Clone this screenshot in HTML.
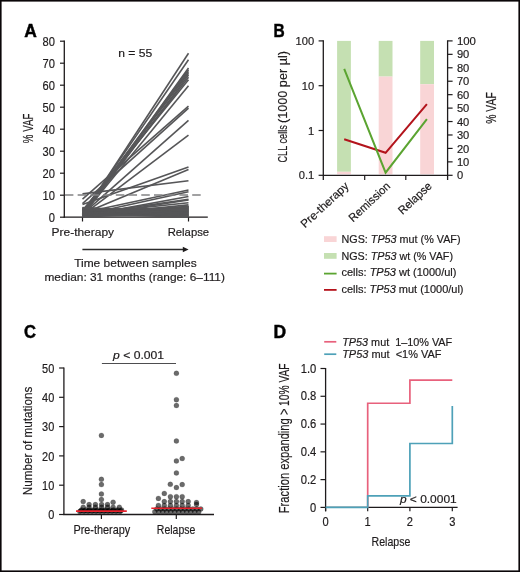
<!DOCTYPE html>
<html><head><meta charset="utf-8"><style>
html,body{margin:0;padding:0;background:#fff;}
body{width:520px;height:572px;overflow:hidden;}
svg{display:block;font-family:"Liberation Sans", sans-serif;will-change:transform;}
</style></head><body>
<svg width="520" height="572" viewBox="0 0 520 572">
<rect x="0" y="0" width="520" height="572" fill="#fff"/>
<text x="24.2" y="36.8" font-size="17.6" text-anchor="start" font-weight="bold" fill="#000" stroke="#000" stroke-width="0.45" textLength="12.6" lengthAdjust="spacingAndGlyphs">A</text>
<line x1="64.30" y1="40.60" x2="64.30" y2="217.80" stroke="#1e1b1c" stroke-width="1.3" />
<line x1="63.70" y1="217.20" x2="207.80" y2="217.20" stroke="#1e1b1c" stroke-width="1.3" />
<line x1="60.00" y1="217.20" x2="64.30" y2="217.20" stroke="#1e1b1c" stroke-width="1.2" />
<text x="55" y="221.6" font-size="12.4" text-anchor="end" font-weight="normal" fill="#1e1b1c" stroke="#1e1b1c" stroke-width="0.18"  textLength="6.2" lengthAdjust="spacingAndGlyphs">0</text>
<line x1="60.00" y1="195.20" x2="64.30" y2="195.20" stroke="#1e1b1c" stroke-width="1.2" />
<text x="55" y="199.6" font-size="12.4" text-anchor="end" font-weight="normal" fill="#1e1b1c" stroke="#1e1b1c" stroke-width="0.18"  textLength="12.4" lengthAdjust="spacingAndGlyphs">10</text>
<line x1="60.00" y1="173.20" x2="64.30" y2="173.20" stroke="#1e1b1c" stroke-width="1.2" />
<text x="55" y="177.6" font-size="12.4" text-anchor="end" font-weight="normal" fill="#1e1b1c" stroke="#1e1b1c" stroke-width="0.18"  textLength="12.4" lengthAdjust="spacingAndGlyphs">20</text>
<line x1="60.00" y1="151.20" x2="64.30" y2="151.20" stroke="#1e1b1c" stroke-width="1.2" />
<text x="55" y="155.6" font-size="12.4" text-anchor="end" font-weight="normal" fill="#1e1b1c" stroke="#1e1b1c" stroke-width="0.18"  textLength="12.4" lengthAdjust="spacingAndGlyphs">30</text>
<line x1="60.00" y1="129.20" x2="64.30" y2="129.20" stroke="#1e1b1c" stroke-width="1.2" />
<text x="55" y="133.6" font-size="12.4" text-anchor="end" font-weight="normal" fill="#1e1b1c" stroke="#1e1b1c" stroke-width="0.18"  textLength="12.4" lengthAdjust="spacingAndGlyphs">40</text>
<line x1="60.00" y1="107.20" x2="64.30" y2="107.20" stroke="#1e1b1c" stroke-width="1.2" />
<text x="55" y="111.59999999999998" font-size="12.4" text-anchor="end" font-weight="normal" fill="#1e1b1c" stroke="#1e1b1c" stroke-width="0.18"  textLength="12.4" lengthAdjust="spacingAndGlyphs">50</text>
<line x1="60.00" y1="85.20" x2="64.30" y2="85.20" stroke="#1e1b1c" stroke-width="1.2" />
<text x="55" y="89.6" font-size="12.4" text-anchor="end" font-weight="normal" fill="#1e1b1c" stroke="#1e1b1c" stroke-width="0.18"  textLength="12.4" lengthAdjust="spacingAndGlyphs">60</text>
<line x1="60.00" y1="63.20" x2="64.30" y2="63.20" stroke="#1e1b1c" stroke-width="1.2" />
<text x="55" y="67.6" font-size="12.4" text-anchor="end" font-weight="normal" fill="#1e1b1c" stroke="#1e1b1c" stroke-width="0.18"  textLength="12.4" lengthAdjust="spacingAndGlyphs">70</text>
<line x1="60.00" y1="41.20" x2="64.30" y2="41.20" stroke="#1e1b1c" stroke-width="1.2" />
<text x="55" y="45.59999999999999" font-size="12.4" text-anchor="end" font-weight="normal" fill="#1e1b1c" stroke="#1e1b1c" stroke-width="0.18"  textLength="12.4" lengthAdjust="spacingAndGlyphs">80</text>
<line x1="82.50" y1="217.20" x2="82.50" y2="221.50" stroke="#1e1b1c" stroke-width="1.2" />
<line x1="188.50" y1="217.20" x2="188.50" y2="221.50" stroke="#1e1b1c" stroke-width="1.2" />
<text x="0" y="0" font-size="14.6" text-anchor="middle" font-weight="normal" fill="#1e1b1c" stroke="#1e1b1c" stroke-width="0.18" transform="translate(33.4,128.4) rotate(-90)" textLength="29.5" lengthAdjust="spacingAndGlyphs">% VAF</text>
<text x="135.2" y="56.7" font-size="11.6" text-anchor="middle" font-weight="normal" fill="#1e1b1c" stroke="#1e1b1c" stroke-width="0.18"  textLength="34" lengthAdjust="spacingAndGlyphs">n = 55</text>
<line x1="82.50" y1="215.00" x2="188.50" y2="53.30" stroke="#565658" stroke-width="1.6" />
<line x1="82.50" y1="213.90" x2="188.50" y2="59.68" stroke="#565658" stroke-width="1.6" />
<line x1="82.50" y1="215.44" x2="188.50" y2="68.04" stroke="#565658" stroke-width="1.6" />
<line x1="82.50" y1="212.80" x2="188.50" y2="69.80" stroke="#565658" stroke-width="1.6" />
<line x1="82.50" y1="214.56" x2="188.50" y2="71.56" stroke="#565658" stroke-width="1.6" />
<line x1="82.50" y1="211.48" x2="188.50" y2="73.32" stroke="#565658" stroke-width="1.6" />
<line x1="82.50" y1="216.10" x2="188.50" y2="75.08" stroke="#565658" stroke-width="1.6" />
<line x1="82.50" y1="213.24" x2="188.50" y2="77.28" stroke="#565658" stroke-width="1.6" />
<line x1="82.50" y1="210.60" x2="188.50" y2="79.70" stroke="#565658" stroke-width="1.6" />
<line x1="82.50" y1="215.00" x2="188.50" y2="85.64" stroke="#565658" stroke-width="1.6" />
<line x1="82.50" y1="199.16" x2="188.50" y2="106.10" stroke="#565658" stroke-width="1.6" />
<line x1="82.50" y1="203.56" x2="188.50" y2="108.08" stroke="#565658" stroke-width="1.6" />
<line x1="82.50" y1="214.12" x2="188.50" y2="120.40" stroke="#565658" stroke-width="1.6" />
<line x1="82.50" y1="215.22" x2="188.50" y2="135.14" stroke="#565658" stroke-width="1.6" />
<line x1="82.50" y1="204.44" x2="188.50" y2="167.04" stroke="#565658" stroke-width="1.6" />
<line x1="82.50" y1="213.68" x2="188.50" y2="169.46" stroke="#565658" stroke-width="1.6" />
<line x1="82.50" y1="193.88" x2="188.50" y2="180.68" stroke="#565658" stroke-width="1.6" />
<line x1="82.50" y1="212.80" x2="188.50" y2="189.92" stroke="#565658" stroke-width="1.6" />
<line x1="82.50" y1="215.00" x2="188.50" y2="191.68" stroke="#565658" stroke-width="1.6" />
<line x1="82.50" y1="215.88" x2="188.50" y2="196.52" stroke="#565658" stroke-width="1.6" />
<line x1="82.50" y1="214.56" x2="188.50" y2="199.38" stroke="#565658" stroke-width="1.6" />
<line x1="82.50" y1="216.32" x2="188.50" y2="200.04" stroke="#565658" stroke-width="1.6" />
<line x1="82.50" y1="213.90" x2="188.50" y2="202.68" stroke="#565658" stroke-width="1.6" />
<line x1="82.50" y1="215.44" x2="188.50" y2="204.88" stroke="#565658" stroke-width="1.6" />
<line x1="82.50" y1="216.98" x2="188.50" y2="206.92" stroke="#565658" stroke-width="1.6" />
<line x1="82.50" y1="216.66" x2="188.50" y2="213.75" stroke="#565658" stroke-width="1.6" />
<line x1="82.50" y1="216.35" x2="188.50" y2="210.15" stroke="#565658" stroke-width="1.6" />
<line x1="82.50" y1="216.03" x2="188.50" y2="206.20" stroke="#565658" stroke-width="1.6" />
<line x1="82.50" y1="215.72" x2="188.50" y2="206.56" stroke="#565658" stroke-width="1.6" />
<line x1="82.50" y1="215.40" x2="188.50" y2="215.18" stroke="#565658" stroke-width="1.6" />
<line x1="82.50" y1="215.09" x2="188.50" y2="214.46" stroke="#565658" stroke-width="1.6" />
<line x1="82.50" y1="214.77" x2="188.50" y2="209.07" stroke="#565658" stroke-width="1.6" />
<line x1="82.50" y1="214.46" x2="188.50" y2="216.98" stroke="#565658" stroke-width="1.6" />
<line x1="82.50" y1="214.14" x2="188.50" y2="211.95" stroke="#565658" stroke-width="1.6" />
<line x1="82.50" y1="213.83" x2="188.50" y2="214.11" stroke="#565658" stroke-width="1.6" />
<line x1="82.50" y1="213.51" x2="188.50" y2="211.59" stroke="#565658" stroke-width="1.6" />
<line x1="82.50" y1="213.20" x2="188.50" y2="208.72" stroke="#565658" stroke-width="1.6" />
<line x1="82.50" y1="212.88" x2="188.50" y2="208.36" stroke="#565658" stroke-width="1.6" />
<line x1="82.50" y1="212.57" x2="188.50" y2="209.43" stroke="#565658" stroke-width="1.6" />
<line x1="82.50" y1="212.25" x2="188.50" y2="212.31" stroke="#565658" stroke-width="1.6" />
<line x1="82.50" y1="211.93" x2="188.50" y2="208.00" stroke="#565658" stroke-width="1.6" />
<line x1="82.50" y1="211.62" x2="188.50" y2="207.28" stroke="#565658" stroke-width="1.6" />
<line x1="82.50" y1="211.30" x2="188.50" y2="214.82" stroke="#565658" stroke-width="1.6" />
<line x1="82.50" y1="210.99" x2="188.50" y2="211.23" stroke="#565658" stroke-width="1.6" />
<line x1="82.50" y1="210.67" x2="188.50" y2="207.64" stroke="#565658" stroke-width="1.6" />
<line x1="82.50" y1="210.36" x2="188.50" y2="210.51" stroke="#565658" stroke-width="1.6" />
<line x1="82.50" y1="210.04" x2="188.50" y2="213.03" stroke="#565658" stroke-width="1.6" />
<line x1="82.50" y1="209.73" x2="188.50" y2="215.90" stroke="#565658" stroke-width="1.6" />
<line x1="82.50" y1="209.41" x2="188.50" y2="210.87" stroke="#565658" stroke-width="1.6" />
<line x1="82.50" y1="209.10" x2="188.50" y2="216.26" stroke="#565658" stroke-width="1.6" />
<line x1="82.50" y1="208.78" x2="188.50" y2="216.62" stroke="#565658" stroke-width="1.6" />
<line x1="82.50" y1="208.47" x2="188.50" y2="209.79" stroke="#565658" stroke-width="1.6" />
<line x1="82.50" y1="208.15" x2="188.50" y2="212.67" stroke="#565658" stroke-width="1.6" />
<line x1="82.50" y1="207.84" x2="188.50" y2="215.54" stroke="#565658" stroke-width="1.6" />
<line x1="82.50" y1="207.52" x2="188.50" y2="213.39" stroke="#565658" stroke-width="1.6" />
<line x1="64.90" y1="194.90" x2="201.60" y2="194.90" stroke="#828284" stroke-width="1.5" stroke-dasharray="8.5 4.23"/>
<text x="82.8" y="235.6" font-size="11.6" text-anchor="middle" font-weight="normal" fill="#1e1b1c" stroke="#1e1b1c" stroke-width="0.18"  textLength="62.5" lengthAdjust="spacingAndGlyphs">Pre-therapy</text>
<text x="188.4" y="235.6" font-size="11.6" text-anchor="middle" font-weight="normal" fill="#1e1b1c" stroke="#1e1b1c" stroke-width="0.18"  textLength="41.5" lengthAdjust="spacingAndGlyphs">Relapse</text>
<line x1="82.40" y1="249.50" x2="185.00" y2="249.50" stroke="#2b2b2b" stroke-width="1.3" />
<path d="M182.8 246.8 L188.6 249.5 L182.8 252.2 Z" fill="#1e1b1c"/>
<text x="135.4" y="266.9" font-size="11.6" text-anchor="middle" font-weight="normal" fill="#1e1b1c" stroke="#1e1b1c" stroke-width="0.18"  textLength="122.5" lengthAdjust="spacingAndGlyphs">Time between samples</text>
<text x="134.7" y="281.2" font-size="11.6" text-anchor="middle" font-weight="normal" fill="#1e1b1c" stroke="#1e1b1c" stroke-width="0.18"  textLength="180.5" lengthAdjust="spacingAndGlyphs">median: 31 months (range: 6–111)</text>
<text x="273.6" y="36.8" font-size="17.6" text-anchor="start" font-weight="bold" fill="#000" stroke="#000" stroke-width="0.45" textLength="11.2" lengthAdjust="spacingAndGlyphs">B</text>
<rect x="337.1" y="40.9" width="13.8" height="130.90" fill="#c5e0b2"/>
<rect x="337.1" y="171.80" width="13.8" height="2.50" fill="#f9d5d6"/>
<rect x="378.7" y="40.9" width="13.8" height="35.70" fill="#c5e0b2"/>
<rect x="378.7" y="76.60" width="13.8" height="97.70" fill="#f9d5d6"/>
<rect x="420.2" y="40.9" width="13.8" height="43.30" fill="#c5e0b2"/>
<rect x="420.2" y="84.20" width="13.8" height="90.10" fill="#f9d5d6"/>
<line x1="323.30" y1="40.30" x2="323.30" y2="180.00" stroke="#1e1b1c" stroke-width="1.3" />
<line x1="447.60" y1="40.30" x2="447.60" y2="180.00" stroke="#1e1b1c" stroke-width="1.3" />
<line x1="323.30" y1="175.30" x2="447.60" y2="175.30" stroke="#1e1b1c" stroke-width="1.3" />
<line x1="318.60" y1="40.90" x2="323.30" y2="40.90" stroke="#1e1b1c" stroke-width="1.2" />
<text x="314.2" y="45.0" font-size="11.6" text-anchor="end" font-weight="normal" fill="#1e1b1c" stroke="#1e1b1c" stroke-width="0.18"  textLength="18.6" lengthAdjust="spacingAndGlyphs">100</text>
<line x1="318.60" y1="85.70" x2="323.30" y2="85.70" stroke="#1e1b1c" stroke-width="1.2" />
<text x="314.2" y="89.8" font-size="11.6" text-anchor="end" font-weight="normal" fill="#1e1b1c" stroke="#1e1b1c" stroke-width="0.18"  textLength="12.4" lengthAdjust="spacingAndGlyphs">10</text>
<line x1="318.60" y1="130.50" x2="323.30" y2="130.50" stroke="#1e1b1c" stroke-width="1.2" />
<text x="314.2" y="134.6" font-size="11.6" text-anchor="end" font-weight="normal" fill="#1e1b1c" stroke="#1e1b1c" stroke-width="0.18"  textLength="6.2" lengthAdjust="spacingAndGlyphs">1</text>
<line x1="318.60" y1="175.30" x2="323.30" y2="175.30" stroke="#1e1b1c" stroke-width="1.2" />
<text x="314.2" y="179.4" font-size="11.6" text-anchor="end" font-weight="normal" fill="#1e1b1c" stroke="#1e1b1c" stroke-width="0.18"  textLength="15.5" lengthAdjust="spacingAndGlyphs">0.1</text>
<line x1="447.60" y1="175.30" x2="452.60" y2="175.30" stroke="#1e1b1c" stroke-width="1.2" />
<text x="456.9" y="179.4" font-size="11.6" text-anchor="start" font-weight="normal" fill="#1e1b1c" stroke="#1e1b1c" stroke-width="0.18"  textLength="6.2" lengthAdjust="spacingAndGlyphs">0</text>
<line x1="447.60" y1="161.86" x2="452.60" y2="161.86" stroke="#1e1b1c" stroke-width="1.2" />
<text x="456.9" y="165.96" font-size="11.6" text-anchor="start" font-weight="normal" fill="#1e1b1c" stroke="#1e1b1c" stroke-width="0.18"  textLength="12.4" lengthAdjust="spacingAndGlyphs">10</text>
<line x1="447.60" y1="148.42" x2="452.60" y2="148.42" stroke="#1e1b1c" stroke-width="1.2" />
<text x="456.9" y="152.52" font-size="11.6" text-anchor="start" font-weight="normal" fill="#1e1b1c" stroke="#1e1b1c" stroke-width="0.18"  textLength="12.4" lengthAdjust="spacingAndGlyphs">20</text>
<line x1="447.60" y1="134.98" x2="452.60" y2="134.98" stroke="#1e1b1c" stroke-width="1.2" />
<text x="456.9" y="139.08" font-size="11.6" text-anchor="start" font-weight="normal" fill="#1e1b1c" stroke="#1e1b1c" stroke-width="0.18"  textLength="12.4" lengthAdjust="spacingAndGlyphs">30</text>
<line x1="447.60" y1="121.54" x2="452.60" y2="121.54" stroke="#1e1b1c" stroke-width="1.2" />
<text x="456.9" y="125.64" font-size="11.6" text-anchor="start" font-weight="normal" fill="#1e1b1c" stroke="#1e1b1c" stroke-width="0.18"  textLength="12.4" lengthAdjust="spacingAndGlyphs">40</text>
<line x1="447.60" y1="108.10" x2="452.60" y2="108.10" stroke="#1e1b1c" stroke-width="1.2" />
<text x="456.9" y="112.2" font-size="11.6" text-anchor="start" font-weight="normal" fill="#1e1b1c" stroke="#1e1b1c" stroke-width="0.18"  textLength="12.4" lengthAdjust="spacingAndGlyphs">50</text>
<line x1="447.60" y1="94.66" x2="452.60" y2="94.66" stroke="#1e1b1c" stroke-width="1.2" />
<text x="456.9" y="98.76" font-size="11.6" text-anchor="start" font-weight="normal" fill="#1e1b1c" stroke="#1e1b1c" stroke-width="0.18"  textLength="12.4" lengthAdjust="spacingAndGlyphs">60</text>
<line x1="447.60" y1="81.22" x2="452.60" y2="81.22" stroke="#1e1b1c" stroke-width="1.2" />
<text x="456.9" y="85.32" font-size="11.6" text-anchor="start" font-weight="normal" fill="#1e1b1c" stroke="#1e1b1c" stroke-width="0.18"  textLength="12.4" lengthAdjust="spacingAndGlyphs">70</text>
<line x1="447.60" y1="67.78" x2="452.60" y2="67.78" stroke="#1e1b1c" stroke-width="1.2" />
<text x="456.9" y="71.88" font-size="11.6" text-anchor="start" font-weight="normal" fill="#1e1b1c" stroke="#1e1b1c" stroke-width="0.18"  textLength="12.4" lengthAdjust="spacingAndGlyphs">80</text>
<line x1="447.60" y1="54.34" x2="452.60" y2="54.34" stroke="#1e1b1c" stroke-width="1.2" />
<text x="456.9" y="58.440000000000005" font-size="11.6" text-anchor="start" font-weight="normal" fill="#1e1b1c" stroke="#1e1b1c" stroke-width="0.18"  textLength="12.4" lengthAdjust="spacingAndGlyphs">90</text>
<line x1="447.60" y1="40.90" x2="452.60" y2="40.90" stroke="#1e1b1c" stroke-width="1.2" />
<text x="456.9" y="45.00000000000001" font-size="11.6" text-anchor="start" font-weight="normal" fill="#1e1b1c" stroke="#1e1b1c" stroke-width="0.18"  textLength="19" lengthAdjust="spacingAndGlyphs">100</text>
<line x1="364.70" y1="175.30" x2="364.70" y2="180.00" stroke="#1e1b1c" stroke-width="1.2" />
<line x1="405.80" y1="175.30" x2="405.80" y2="180.00" stroke="#1e1b1c" stroke-width="1.2" />
<g transform="translate(287.2,162.6) rotate(-90)"><text x="0" y="0" font-size="13.2" text-anchor="start" font-weight="normal" fill="#1e1b1c" stroke="#1e1b1c" stroke-width="0.18"  textLength="37.5" lengthAdjust="spacingAndGlyphs">CLL cells</text><text x="39.6" y="0" font-size="13.2" text-anchor="start" font-weight="normal" fill="#1e1b1c" stroke="#1e1b1c" stroke-width="0.18"  textLength="72" lengthAdjust="spacingAndGlyphs">(1000 per µl)</text></g>
<text x="0" y="0" font-size="14.4" text-anchor="middle" font-weight="normal" fill="#1e1b1c" stroke="#1e1b1c" stroke-width="0.18" transform="translate(496.2,108) rotate(-90)" textLength="31.5" lengthAdjust="spacingAndGlyphs">% VAF</text>
<polyline points="344.2,139.2 385.6,152.8 426.9,104.2" fill="none" stroke="#b3141c" stroke-width="2"/>
<polyline points="344.2,68.8 385.6,172.7 426.9,119.2" fill="none" stroke="#5ba431" stroke-width="2"/>
<text x="0" y="0" font-size="11.5" text-anchor="end" font-weight="normal" fill="#1e1b1c" stroke="#1e1b1c" stroke-width="0.18" transform="translate(349.5,187) rotate(-43)" textLength="61" lengthAdjust="spacingAndGlyphs">Pre-therapy</text>
<text x="0" y="0" font-size="11.5" text-anchor="end" font-weight="normal" fill="#1e1b1c" stroke="#1e1b1c" stroke-width="0.18" transform="translate(391.1,187) rotate(-43)" textLength="52" lengthAdjust="spacingAndGlyphs">Remission</text>
<text x="0" y="0" font-size="11.5" text-anchor="end" font-weight="normal" fill="#1e1b1c" stroke="#1e1b1c" stroke-width="0.18" transform="translate(432.6,187) rotate(-43)" textLength="41" lengthAdjust="spacingAndGlyphs">Relapse</text>
<rect x="324" y="236.2" width="12.6" height="5.8" fill="#f9d5d6"/>
<rect x="324" y="253" width="12.6" height="5.8" fill="#c5e0b2"/>
<line x1="324.00" y1="273.60" x2="336.60" y2="273.60" stroke="#5ba431" stroke-width="1.8" />
<line x1="324.00" y1="289.90" x2="336.60" y2="289.90" stroke="#b5121b" stroke-width="1.8" />
<text x="341.5" y="243.2" font-size="10.6" text-anchor="start" font-weight="normal" fill="#1e1b1c" stroke="#1e1b1c" stroke-width="0.18"  textLength="119" lengthAdjust="spacingAndGlyphs">NGS: <tspan font-style="italic">TP53</tspan> mut (% VAF)</text>
<text x="341.5" y="259.6" font-size="10.6" text-anchor="start" font-weight="normal" fill="#1e1b1c" stroke="#1e1b1c" stroke-width="0.18"  textLength="111.5" lengthAdjust="spacingAndGlyphs">NGS: <tspan font-style="italic">TP53</tspan> wt (% VAF)</text>
<text x="341.5" y="276.2" font-size="10.6" text-anchor="start" font-weight="normal" fill="#1e1b1c" stroke="#1e1b1c" stroke-width="0.18"  textLength="115" lengthAdjust="spacingAndGlyphs">cells: <tspan font-style="italic">TP53</tspan> wt (1000/ul)</text>
<text x="341.5" y="292.6" font-size="10.6" text-anchor="start" font-weight="normal" fill="#1e1b1c" stroke="#1e1b1c" stroke-width="0.18"  textLength="122" lengthAdjust="spacingAndGlyphs">cells: <tspan font-style="italic">TP53</tspan> mut (1000/ul)</text>
<text x="24.0" y="338.3" font-size="17.6" text-anchor="start" font-weight="bold" fill="#000" stroke="#000" stroke-width="0.45" textLength="12" lengthAdjust="spacingAndGlyphs">C</text>
<line x1="63.90" y1="367.50" x2="63.90" y2="515.10" stroke="#1e1b1c" stroke-width="1.3" />
<line x1="63.30" y1="514.50" x2="214.00" y2="514.50" stroke="#1e1b1c" stroke-width="1.3" />
<line x1="59.10" y1="514.50" x2="63.90" y2="514.50" stroke="#1e1b1c" stroke-width="1.2" />
<text x="54.3" y="519.3" font-size="12.4" text-anchor="end" font-weight="normal" fill="#1e1b1c" stroke="#1e1b1c" stroke-width="0.18"  textLength="6.1" lengthAdjust="spacingAndGlyphs">0</text>
<line x1="59.10" y1="485.20" x2="63.90" y2="485.20" stroke="#1e1b1c" stroke-width="1.2" />
<text x="54.3" y="490.0" font-size="12.4" text-anchor="end" font-weight="normal" fill="#1e1b1c" stroke="#1e1b1c" stroke-width="0.18"  textLength="12.2" lengthAdjust="spacingAndGlyphs">10</text>
<line x1="59.10" y1="455.90" x2="63.90" y2="455.90" stroke="#1e1b1c" stroke-width="1.2" />
<text x="54.3" y="460.7" font-size="12.4" text-anchor="end" font-weight="normal" fill="#1e1b1c" stroke="#1e1b1c" stroke-width="0.18"  textLength="12.2" lengthAdjust="spacingAndGlyphs">20</text>
<line x1="59.10" y1="426.60" x2="63.90" y2="426.60" stroke="#1e1b1c" stroke-width="1.2" />
<text x="54.3" y="431.40000000000003" font-size="12.4" text-anchor="end" font-weight="normal" fill="#1e1b1c" stroke="#1e1b1c" stroke-width="0.18"  textLength="12.2" lengthAdjust="spacingAndGlyphs">30</text>
<line x1="59.10" y1="397.30" x2="63.90" y2="397.30" stroke="#1e1b1c" stroke-width="1.2" />
<text x="54.3" y="402.1" font-size="12.4" text-anchor="end" font-weight="normal" fill="#1e1b1c" stroke="#1e1b1c" stroke-width="0.18"  textLength="12.2" lengthAdjust="spacingAndGlyphs">40</text>
<line x1="59.10" y1="368.00" x2="63.90" y2="368.00" stroke="#1e1b1c" stroke-width="1.2" />
<text x="54.3" y="372.8" font-size="12.4" text-anchor="end" font-weight="normal" fill="#1e1b1c" stroke="#1e1b1c" stroke-width="0.18"  textLength="12.2" lengthAdjust="spacingAndGlyphs">50</text>
<line x1="101.40" y1="514.50" x2="101.40" y2="519.00" stroke="#1e1b1c" stroke-width="1.2" />
<line x1="176.30" y1="514.50" x2="176.30" y2="519.00" stroke="#1e1b1c" stroke-width="1.2" />
<text x="0" y="0" font-size="13.4" text-anchor="middle" font-weight="normal" fill="#1e1b1c" stroke="#1e1b1c" stroke-width="0.18" transform="translate(32.3,441) rotate(-90)" textLength="108.5" lengthAdjust="spacingAndGlyphs">Number of mutations</text>
<text x="101.8" y="533.6" font-size="13.6" text-anchor="middle" font-weight="normal" fill="#1e1b1c" stroke="#1e1b1c" stroke-width="0.18"  textLength="56.8" lengthAdjust="spacingAndGlyphs">Pre-therapy</text>
<text x="176.1" y="533.5" font-size="13.6" text-anchor="middle" font-weight="normal" fill="#1e1b1c" stroke="#1e1b1c" stroke-width="0.18"  textLength="38.5" lengthAdjust="spacingAndGlyphs">Relapse</text>
<line x1="101.90" y1="363.50" x2="176.00" y2="363.50" stroke="#4d4d4f" stroke-width="1.2" />
<text x="138.6" y="358.7" font-size="11" text-anchor="middle" font-weight="normal" fill="#1e1b1c" stroke="#1e1b1c" stroke-width="0.18"  textLength="51" lengthAdjust="spacingAndGlyphs"><tspan font-style="italic">p</tspan> &lt; 0.001</text>
<circle cx="101.40" cy="435.39" r="2.5" fill="#000" fill-opacity="0.58" stroke="#000" stroke-opacity="0.22" stroke-width="0.6"/>
<circle cx="101.40" cy="479.34" r="2.5" fill="#000" fill-opacity="0.58" stroke="#000" stroke-opacity="0.22" stroke-width="0.6"/>
<circle cx="101.40" cy="484.61" r="2.5" fill="#000" fill-opacity="0.58" stroke="#000" stroke-opacity="0.22" stroke-width="0.6"/>
<circle cx="101.40" cy="493.99" r="2.5" fill="#000" fill-opacity="0.58" stroke="#000" stroke-opacity="0.22" stroke-width="0.6"/>
<circle cx="101.40" cy="499.56" r="2.5" fill="#000" fill-opacity="0.58" stroke="#000" stroke-opacity="0.22" stroke-width="0.6"/>
<circle cx="83.20" cy="501.61" r="2.5" fill="#000" fill-opacity="0.58" stroke="#000" stroke-opacity="0.22" stroke-width="0.6"/>
<circle cx="113.10" cy="502.19" r="2.5" fill="#000" fill-opacity="0.58" stroke="#000" stroke-opacity="0.22" stroke-width="0.6"/>
<circle cx="89.10" cy="504.54" r="2.5" fill="#000" fill-opacity="0.58" stroke="#000" stroke-opacity="0.22" stroke-width="0.6"/>
<circle cx="95.40" cy="504.54" r="2.5" fill="#000" fill-opacity="0.58" stroke="#000" stroke-opacity="0.22" stroke-width="0.6"/>
<circle cx="101.60" cy="504.54" r="2.5" fill="#000" fill-opacity="0.58" stroke="#000" stroke-opacity="0.22" stroke-width="0.6"/>
<circle cx="107.50" cy="504.54" r="2.5" fill="#000" fill-opacity="0.58" stroke="#000" stroke-opacity="0.22" stroke-width="0.6"/>
<circle cx="83.20" cy="507.18" r="2.5" fill="#000" fill-opacity="0.58" stroke="#000" stroke-opacity="0.22" stroke-width="0.6"/>
<circle cx="89.10" cy="507.18" r="2.5" fill="#000" fill-opacity="0.58" stroke="#000" stroke-opacity="0.22" stroke-width="0.6"/>
<circle cx="95.40" cy="507.18" r="2.5" fill="#000" fill-opacity="0.58" stroke="#000" stroke-opacity="0.22" stroke-width="0.6"/>
<circle cx="101.60" cy="507.18" r="2.5" fill="#000" fill-opacity="0.58" stroke="#000" stroke-opacity="0.22" stroke-width="0.6"/>
<circle cx="107.50" cy="507.18" r="2.5" fill="#000" fill-opacity="0.58" stroke="#000" stroke-opacity="0.22" stroke-width="0.6"/>
<circle cx="113.10" cy="507.18" r="2.5" fill="#000" fill-opacity="0.58" stroke="#000" stroke-opacity="0.22" stroke-width="0.6"/>
<circle cx="119.30" cy="507.18" r="2.5" fill="#000" fill-opacity="0.58" stroke="#000" stroke-opacity="0.22" stroke-width="0.6"/>
<circle cx="79.80" cy="511.57" r="2.5" fill="#000" fill-opacity="0.58" stroke="#000" stroke-opacity="0.22" stroke-width="0.6"/>
<circle cx="81.60" cy="510.11" r="2.5" fill="#000" fill-opacity="0.58" stroke="#000" stroke-opacity="0.22" stroke-width="0.6"/>
<circle cx="80.70" cy="510.84" r="2.5" fill="#000" fill-opacity="0.58" stroke="#000" stroke-opacity="0.22" stroke-width="0.6"/>
<circle cx="83.80" cy="511.57" r="2.5" fill="#000" fill-opacity="0.58" stroke="#000" stroke-opacity="0.22" stroke-width="0.6"/>
<circle cx="85.60" cy="510.11" r="2.5" fill="#000" fill-opacity="0.58" stroke="#000" stroke-opacity="0.22" stroke-width="0.6"/>
<circle cx="84.70" cy="510.84" r="2.5" fill="#000" fill-opacity="0.58" stroke="#000" stroke-opacity="0.22" stroke-width="0.6"/>
<circle cx="87.80" cy="511.57" r="2.5" fill="#000" fill-opacity="0.58" stroke="#000" stroke-opacity="0.22" stroke-width="0.6"/>
<circle cx="89.60" cy="510.11" r="2.5" fill="#000" fill-opacity="0.58" stroke="#000" stroke-opacity="0.22" stroke-width="0.6"/>
<circle cx="88.70" cy="510.84" r="2.5" fill="#000" fill-opacity="0.58" stroke="#000" stroke-opacity="0.22" stroke-width="0.6"/>
<circle cx="91.80" cy="511.57" r="2.5" fill="#000" fill-opacity="0.58" stroke="#000" stroke-opacity="0.22" stroke-width="0.6"/>
<circle cx="93.60" cy="510.11" r="2.5" fill="#000" fill-opacity="0.58" stroke="#000" stroke-opacity="0.22" stroke-width="0.6"/>
<circle cx="92.70" cy="510.84" r="2.5" fill="#000" fill-opacity="0.58" stroke="#000" stroke-opacity="0.22" stroke-width="0.6"/>
<circle cx="95.80" cy="511.57" r="2.5" fill="#000" fill-opacity="0.58" stroke="#000" stroke-opacity="0.22" stroke-width="0.6"/>
<circle cx="97.60" cy="510.11" r="2.5" fill="#000" fill-opacity="0.58" stroke="#000" stroke-opacity="0.22" stroke-width="0.6"/>
<circle cx="96.70" cy="510.84" r="2.5" fill="#000" fill-opacity="0.58" stroke="#000" stroke-opacity="0.22" stroke-width="0.6"/>
<circle cx="99.80" cy="511.57" r="2.5" fill="#000" fill-opacity="0.58" stroke="#000" stroke-opacity="0.22" stroke-width="0.6"/>
<circle cx="101.60" cy="510.11" r="2.5" fill="#000" fill-opacity="0.58" stroke="#000" stroke-opacity="0.22" stroke-width="0.6"/>
<circle cx="100.70" cy="510.84" r="2.5" fill="#000" fill-opacity="0.58" stroke="#000" stroke-opacity="0.22" stroke-width="0.6"/>
<circle cx="103.80" cy="511.57" r="2.5" fill="#000" fill-opacity="0.58" stroke="#000" stroke-opacity="0.22" stroke-width="0.6"/>
<circle cx="105.60" cy="510.11" r="2.5" fill="#000" fill-opacity="0.58" stroke="#000" stroke-opacity="0.22" stroke-width="0.6"/>
<circle cx="104.70" cy="510.84" r="2.5" fill="#000" fill-opacity="0.58" stroke="#000" stroke-opacity="0.22" stroke-width="0.6"/>
<circle cx="107.80" cy="511.57" r="2.5" fill="#000" fill-opacity="0.58" stroke="#000" stroke-opacity="0.22" stroke-width="0.6"/>
<circle cx="109.60" cy="510.11" r="2.5" fill="#000" fill-opacity="0.58" stroke="#000" stroke-opacity="0.22" stroke-width="0.6"/>
<circle cx="108.70" cy="510.84" r="2.5" fill="#000" fill-opacity="0.58" stroke="#000" stroke-opacity="0.22" stroke-width="0.6"/>
<circle cx="111.80" cy="511.57" r="2.5" fill="#000" fill-opacity="0.58" stroke="#000" stroke-opacity="0.22" stroke-width="0.6"/>
<circle cx="113.60" cy="510.11" r="2.5" fill="#000" fill-opacity="0.58" stroke="#000" stroke-opacity="0.22" stroke-width="0.6"/>
<circle cx="112.70" cy="510.84" r="2.5" fill="#000" fill-opacity="0.58" stroke="#000" stroke-opacity="0.22" stroke-width="0.6"/>
<circle cx="115.80" cy="511.57" r="2.5" fill="#000" fill-opacity="0.58" stroke="#000" stroke-opacity="0.22" stroke-width="0.6"/>
<circle cx="117.60" cy="510.11" r="2.5" fill="#000" fill-opacity="0.58" stroke="#000" stroke-opacity="0.22" stroke-width="0.6"/>
<circle cx="116.70" cy="510.84" r="2.5" fill="#000" fill-opacity="0.58" stroke="#000" stroke-opacity="0.22" stroke-width="0.6"/>
<circle cx="119.80" cy="511.57" r="2.5" fill="#000" fill-opacity="0.58" stroke="#000" stroke-opacity="0.22" stroke-width="0.6"/>
<circle cx="121.60" cy="510.11" r="2.5" fill="#000" fill-opacity="0.58" stroke="#000" stroke-opacity="0.22" stroke-width="0.6"/>
<circle cx="120.70" cy="510.84" r="2.5" fill="#000" fill-opacity="0.58" stroke="#000" stroke-opacity="0.22" stroke-width="0.6"/>
<circle cx="176.40" cy="373.27" r="2.5" fill="#000" fill-opacity="0.58" stroke="#000" stroke-opacity="0.22" stroke-width="0.6"/>
<circle cx="176.40" cy="399.64" r="2.5" fill="#000" fill-opacity="0.58" stroke="#000" stroke-opacity="0.22" stroke-width="0.6"/>
<circle cx="176.40" cy="405.50" r="2.5" fill="#000" fill-opacity="0.58" stroke="#000" stroke-opacity="0.22" stroke-width="0.6"/>
<circle cx="176.40" cy="440.96" r="2.5" fill="#000" fill-opacity="0.58" stroke="#000" stroke-opacity="0.22" stroke-width="0.6"/>
<circle cx="176.40" cy="460.88" r="2.5" fill="#000" fill-opacity="0.58" stroke="#000" stroke-opacity="0.22" stroke-width="0.6"/>
<circle cx="182.20" cy="458.54" r="2.5" fill="#000" fill-opacity="0.58" stroke="#000" stroke-opacity="0.22" stroke-width="0.6"/>
<circle cx="176.40" cy="472.89" r="2.5" fill="#000" fill-opacity="0.58" stroke="#000" stroke-opacity="0.22" stroke-width="0.6"/>
<circle cx="170.30" cy="484.32" r="2.5" fill="#000" fill-opacity="0.58" stroke="#000" stroke-opacity="0.22" stroke-width="0.6"/>
<circle cx="182.20" cy="484.61" r="2.5" fill="#000" fill-opacity="0.58" stroke="#000" stroke-opacity="0.22" stroke-width="0.6"/>
<circle cx="176.40" cy="487.54" r="2.5" fill="#000" fill-opacity="0.58" stroke="#000" stroke-opacity="0.22" stroke-width="0.6"/>
<circle cx="164.30" cy="493.40" r="2.5" fill="#000" fill-opacity="0.58" stroke="#000" stroke-opacity="0.22" stroke-width="0.6"/>
<circle cx="158.40" cy="498.38" r="2.5" fill="#000" fill-opacity="0.58" stroke="#000" stroke-opacity="0.22" stroke-width="0.6"/>
<circle cx="170.40" cy="496.63" r="2.5" fill="#000" fill-opacity="0.58" stroke="#000" stroke-opacity="0.22" stroke-width="0.6"/>
<circle cx="176.40" cy="496.63" r="2.5" fill="#000" fill-opacity="0.58" stroke="#000" stroke-opacity="0.22" stroke-width="0.6"/>
<circle cx="182.20" cy="496.63" r="2.5" fill="#000" fill-opacity="0.58" stroke="#000" stroke-opacity="0.22" stroke-width="0.6"/>
<circle cx="164.30" cy="501.61" r="2.5" fill="#000" fill-opacity="0.58" stroke="#000" stroke-opacity="0.22" stroke-width="0.6"/>
<circle cx="170.40" cy="501.61" r="2.5" fill="#000" fill-opacity="0.58" stroke="#000" stroke-opacity="0.22" stroke-width="0.6"/>
<circle cx="176.40" cy="501.61" r="2.5" fill="#000" fill-opacity="0.58" stroke="#000" stroke-opacity="0.22" stroke-width="0.6"/>
<circle cx="182.20" cy="501.61" r="2.5" fill="#000" fill-opacity="0.58" stroke="#000" stroke-opacity="0.22" stroke-width="0.6"/>
<circle cx="188.20" cy="501.61" r="2.5" fill="#000" fill-opacity="0.58" stroke="#000" stroke-opacity="0.22" stroke-width="0.6"/>
<circle cx="196.50" cy="502.49" r="2.5" fill="#000" fill-opacity="0.58" stroke="#000" stroke-opacity="0.22" stroke-width="0.6"/>
<circle cx="196.50" cy="504.54" r="2.5" fill="#000" fill-opacity="0.58" stroke="#000" stroke-opacity="0.22" stroke-width="0.6"/>
<circle cx="158.40" cy="505.42" r="2.5" fill="#000" fill-opacity="0.58" stroke="#000" stroke-opacity="0.22" stroke-width="0.6"/>
<circle cx="164.30" cy="505.42" r="2.5" fill="#000" fill-opacity="0.58" stroke="#000" stroke-opacity="0.22" stroke-width="0.6"/>
<circle cx="170.40" cy="505.42" r="2.5" fill="#000" fill-opacity="0.58" stroke="#000" stroke-opacity="0.22" stroke-width="0.6"/>
<circle cx="176.40" cy="505.42" r="2.5" fill="#000" fill-opacity="0.58" stroke="#000" stroke-opacity="0.22" stroke-width="0.6"/>
<circle cx="182.20" cy="505.42" r="2.5" fill="#000" fill-opacity="0.58" stroke="#000" stroke-opacity="0.22" stroke-width="0.6"/>
<circle cx="188.20" cy="505.42" r="2.5" fill="#000" fill-opacity="0.58" stroke="#000" stroke-opacity="0.22" stroke-width="0.6"/>
<circle cx="154.80" cy="511.86" r="2.5" fill="#000" fill-opacity="0.58" stroke="#000" stroke-opacity="0.22" stroke-width="0.6"/>
<circle cx="156.80" cy="508.93" r="2.5" fill="#000" fill-opacity="0.58" stroke="#000" stroke-opacity="0.22" stroke-width="0.6"/>
<circle cx="158.80" cy="511.86" r="2.5" fill="#000" fill-opacity="0.58" stroke="#000" stroke-opacity="0.22" stroke-width="0.6"/>
<circle cx="160.80" cy="508.93" r="2.5" fill="#000" fill-opacity="0.58" stroke="#000" stroke-opacity="0.22" stroke-width="0.6"/>
<circle cx="162.80" cy="511.86" r="2.5" fill="#000" fill-opacity="0.58" stroke="#000" stroke-opacity="0.22" stroke-width="0.6"/>
<circle cx="164.80" cy="508.93" r="2.5" fill="#000" fill-opacity="0.58" stroke="#000" stroke-opacity="0.22" stroke-width="0.6"/>
<circle cx="166.80" cy="511.86" r="2.5" fill="#000" fill-opacity="0.58" stroke="#000" stroke-opacity="0.22" stroke-width="0.6"/>
<circle cx="168.80" cy="508.93" r="2.5" fill="#000" fill-opacity="0.58" stroke="#000" stroke-opacity="0.22" stroke-width="0.6"/>
<circle cx="170.80" cy="511.86" r="2.5" fill="#000" fill-opacity="0.58" stroke="#000" stroke-opacity="0.22" stroke-width="0.6"/>
<circle cx="172.80" cy="508.93" r="2.5" fill="#000" fill-opacity="0.58" stroke="#000" stroke-opacity="0.22" stroke-width="0.6"/>
<circle cx="174.80" cy="511.86" r="2.5" fill="#000" fill-opacity="0.58" stroke="#000" stroke-opacity="0.22" stroke-width="0.6"/>
<circle cx="176.80" cy="508.93" r="2.5" fill="#000" fill-opacity="0.58" stroke="#000" stroke-opacity="0.22" stroke-width="0.6"/>
<circle cx="178.80" cy="511.86" r="2.5" fill="#000" fill-opacity="0.58" stroke="#000" stroke-opacity="0.22" stroke-width="0.6"/>
<circle cx="180.80" cy="508.93" r="2.5" fill="#000" fill-opacity="0.58" stroke="#000" stroke-opacity="0.22" stroke-width="0.6"/>
<circle cx="182.80" cy="511.86" r="2.5" fill="#000" fill-opacity="0.58" stroke="#000" stroke-opacity="0.22" stroke-width="0.6"/>
<circle cx="184.80" cy="508.93" r="2.5" fill="#000" fill-opacity="0.58" stroke="#000" stroke-opacity="0.22" stroke-width="0.6"/>
<circle cx="186.80" cy="511.86" r="2.5" fill="#000" fill-opacity="0.58" stroke="#000" stroke-opacity="0.22" stroke-width="0.6"/>
<circle cx="188.80" cy="508.93" r="2.5" fill="#000" fill-opacity="0.58" stroke="#000" stroke-opacity="0.22" stroke-width="0.6"/>
<circle cx="190.80" cy="511.86" r="2.5" fill="#000" fill-opacity="0.58" stroke="#000" stroke-opacity="0.22" stroke-width="0.6"/>
<circle cx="192.80" cy="508.93" r="2.5" fill="#000" fill-opacity="0.58" stroke="#000" stroke-opacity="0.22" stroke-width="0.6"/>
<circle cx="194.80" cy="511.86" r="2.5" fill="#000" fill-opacity="0.58" stroke="#000" stroke-opacity="0.22" stroke-width="0.6"/>
<circle cx="196.80" cy="508.93" r="2.5" fill="#000" fill-opacity="0.58" stroke="#000" stroke-opacity="0.22" stroke-width="0.6"/>
<circle cx="198.80" cy="511.86" r="2.5" fill="#000" fill-opacity="0.58" stroke="#000" stroke-opacity="0.22" stroke-width="0.6"/>
<circle cx="200.80" cy="508.93" r="2.5" fill="#000" fill-opacity="0.58" stroke="#000" stroke-opacity="0.22" stroke-width="0.6"/>
<line x1="76.00" y1="511.10" x2="126.80" y2="511.10" stroke="#e8212b" stroke-width="1.6" />
<line x1="151.30" y1="508.30" x2="201.90" y2="508.30" stroke="#e8212b" stroke-width="1.6" />
<text x="273.6" y="338.3" font-size="17.6" text-anchor="start" font-weight="bold" fill="#000" stroke="#000" stroke-width="0.45" textLength="12.6" lengthAdjust="spacingAndGlyphs">D</text>
<line x1="325.60" y1="368.00" x2="325.60" y2="511.30" stroke="#1e1b1c" stroke-width="1.3" />
<line x1="325.60" y1="507.40" x2="457.60" y2="507.40" stroke="#1e1b1c" stroke-width="1.3" />
<line x1="320.50" y1="507.40" x2="325.60" y2="507.40" stroke="#1e1b1c" stroke-width="1.2" />
<text x="316.3" y="511.59999999999997" font-size="12" text-anchor="end" font-weight="normal" fill="#1e1b1c" stroke="#1e1b1c" stroke-width="0.18"  textLength="6.2" lengthAdjust="spacingAndGlyphs">0</text>
<line x1="320.50" y1="479.62" x2="325.60" y2="479.62" stroke="#1e1b1c" stroke-width="1.2" />
<text x="316.3" y="483.82" font-size="12" text-anchor="end" font-weight="normal" fill="#1e1b1c" stroke="#1e1b1c" stroke-width="0.18"  textLength="15.6" lengthAdjust="spacingAndGlyphs">0.2</text>
<line x1="320.50" y1="451.84" x2="325.60" y2="451.84" stroke="#1e1b1c" stroke-width="1.2" />
<text x="316.3" y="456.03999999999996" font-size="12" text-anchor="end" font-weight="normal" fill="#1e1b1c" stroke="#1e1b1c" stroke-width="0.18"  textLength="15.6" lengthAdjust="spacingAndGlyphs">0.4</text>
<line x1="320.50" y1="424.06" x2="325.60" y2="424.06" stroke="#1e1b1c" stroke-width="1.2" />
<text x="316.3" y="428.25999999999993" font-size="12" text-anchor="end" font-weight="normal" fill="#1e1b1c" stroke="#1e1b1c" stroke-width="0.18"  textLength="15.6" lengthAdjust="spacingAndGlyphs">0.6</text>
<line x1="320.50" y1="396.28" x2="325.60" y2="396.28" stroke="#1e1b1c" stroke-width="1.2" />
<text x="316.3" y="400.47999999999996" font-size="12" text-anchor="end" font-weight="normal" fill="#1e1b1c" stroke="#1e1b1c" stroke-width="0.18"  textLength="15.6" lengthAdjust="spacingAndGlyphs">0.8</text>
<line x1="320.50" y1="368.50" x2="325.60" y2="368.50" stroke="#1e1b1c" stroke-width="1.2" />
<text x="316.3" y="372.7" font-size="12" text-anchor="end" font-weight="normal" fill="#1e1b1c" stroke="#1e1b1c" stroke-width="0.18"  textLength="15.6" lengthAdjust="spacingAndGlyphs">1.0</text>
<line x1="325.60" y1="507.40" x2="325.60" y2="511.30" stroke="#1e1b1c" stroke-width="1.2" />
<text x="325.6" y="525.6" font-size="12" text-anchor="middle" font-weight="normal" fill="#1e1b1c" stroke="#1e1b1c" stroke-width="0.18"  textLength="6.2" lengthAdjust="spacingAndGlyphs">0</text>
<line x1="367.70" y1="507.40" x2="367.70" y2="511.30" stroke="#1e1b1c" stroke-width="1.2" />
<text x="367.7" y="525.6" font-size="12" text-anchor="middle" font-weight="normal" fill="#1e1b1c" stroke="#1e1b1c" stroke-width="0.18"  textLength="6.2" lengthAdjust="spacingAndGlyphs">1</text>
<line x1="409.90" y1="507.40" x2="409.90" y2="511.30" stroke="#1e1b1c" stroke-width="1.2" />
<text x="409.9" y="525.6" font-size="12" text-anchor="middle" font-weight="normal" fill="#1e1b1c" stroke="#1e1b1c" stroke-width="0.18"  textLength="6.2" lengthAdjust="spacingAndGlyphs">2</text>
<line x1="452.30" y1="507.40" x2="452.30" y2="511.30" stroke="#1e1b1c" stroke-width="1.2" />
<text x="452.3" y="525.6" font-size="12" text-anchor="middle" font-weight="normal" fill="#1e1b1c" stroke="#1e1b1c" stroke-width="0.18"  textLength="6.2" lengthAdjust="spacingAndGlyphs">3</text>
<text x="391.0" y="546" font-size="13.6" text-anchor="middle" font-weight="normal" fill="#1e1b1c" stroke="#1e1b1c" stroke-width="0.18"  textLength="38.8" lengthAdjust="spacingAndGlyphs">Relapse</text>
<g transform="translate(289.3,513.2) rotate(-90)"><text x="0" y="0" font-size="14" text-anchor="start" font-weight="normal" fill="#1e1b1c" stroke="#1e1b1c" stroke-width="0.18"  textLength="104.6" lengthAdjust="spacingAndGlyphs">Fraction expanding &gt;</text><text x="107.2" y="0" font-size="14" text-anchor="start" font-weight="normal" fill="#1e1b1c" stroke="#1e1b1c" stroke-width="0.18"  textLength="42.6" lengthAdjust="spacingAndGlyphs">10% VAF</text></g>
<polyline points="367.7,507.40 367.7,403.23 409.9,403.23 409.9,380.03 452.3,380.03" fill="none" stroke="#e8617c" stroke-width="1.7"/>
<polyline points="325.6,507.40 367.7,507.40 367.7,495.87 409.9,495.87 409.9,443.51 452.3,443.51 452.3,406.00" fill="none" stroke="#4ea1b8" stroke-width="1.7"/>
<text x="428.3" y="503.2" font-size="11" text-anchor="middle" font-weight="normal" fill="#1e1b1c" stroke="#1e1b1c" stroke-width="0.18"  textLength="56.8" lengthAdjust="spacingAndGlyphs"><tspan font-style="italic">p</tspan> &lt; 0.0001</text>
<line x1="324.20" y1="341.80" x2="336.30" y2="341.80" stroke="#e8617c" stroke-width="1.7" />
<line x1="324.20" y1="354.20" x2="336.30" y2="354.20" stroke="#4ea1b8" stroke-width="1.7" />
<text x="342.2" y="345.7" font-size="11" text-anchor="start" font-weight="normal" fill="#1e1b1c" stroke="#1e1b1c" stroke-width="0.18" xml:space="preserve" textLength="110" lengthAdjust="spacingAndGlyphs"><tspan font-style="italic">TP53</tspan> mut  1–10% VAF</text>
<text x="342.2" y="358.2" font-size="11" text-anchor="start" font-weight="normal" fill="#1e1b1c" stroke="#1e1b1c" stroke-width="0.18" xml:space="preserve" textLength="99.2" lengthAdjust="spacingAndGlyphs"><tspan font-style="italic">TP53</tspan> mut  &lt;1% VAF</text>
<rect x="0.8" y="0.8" width="518.4" height="570.4" fill="none" stroke="#0a0608" stroke-width="1.6"/>
</svg>
</body></html>
